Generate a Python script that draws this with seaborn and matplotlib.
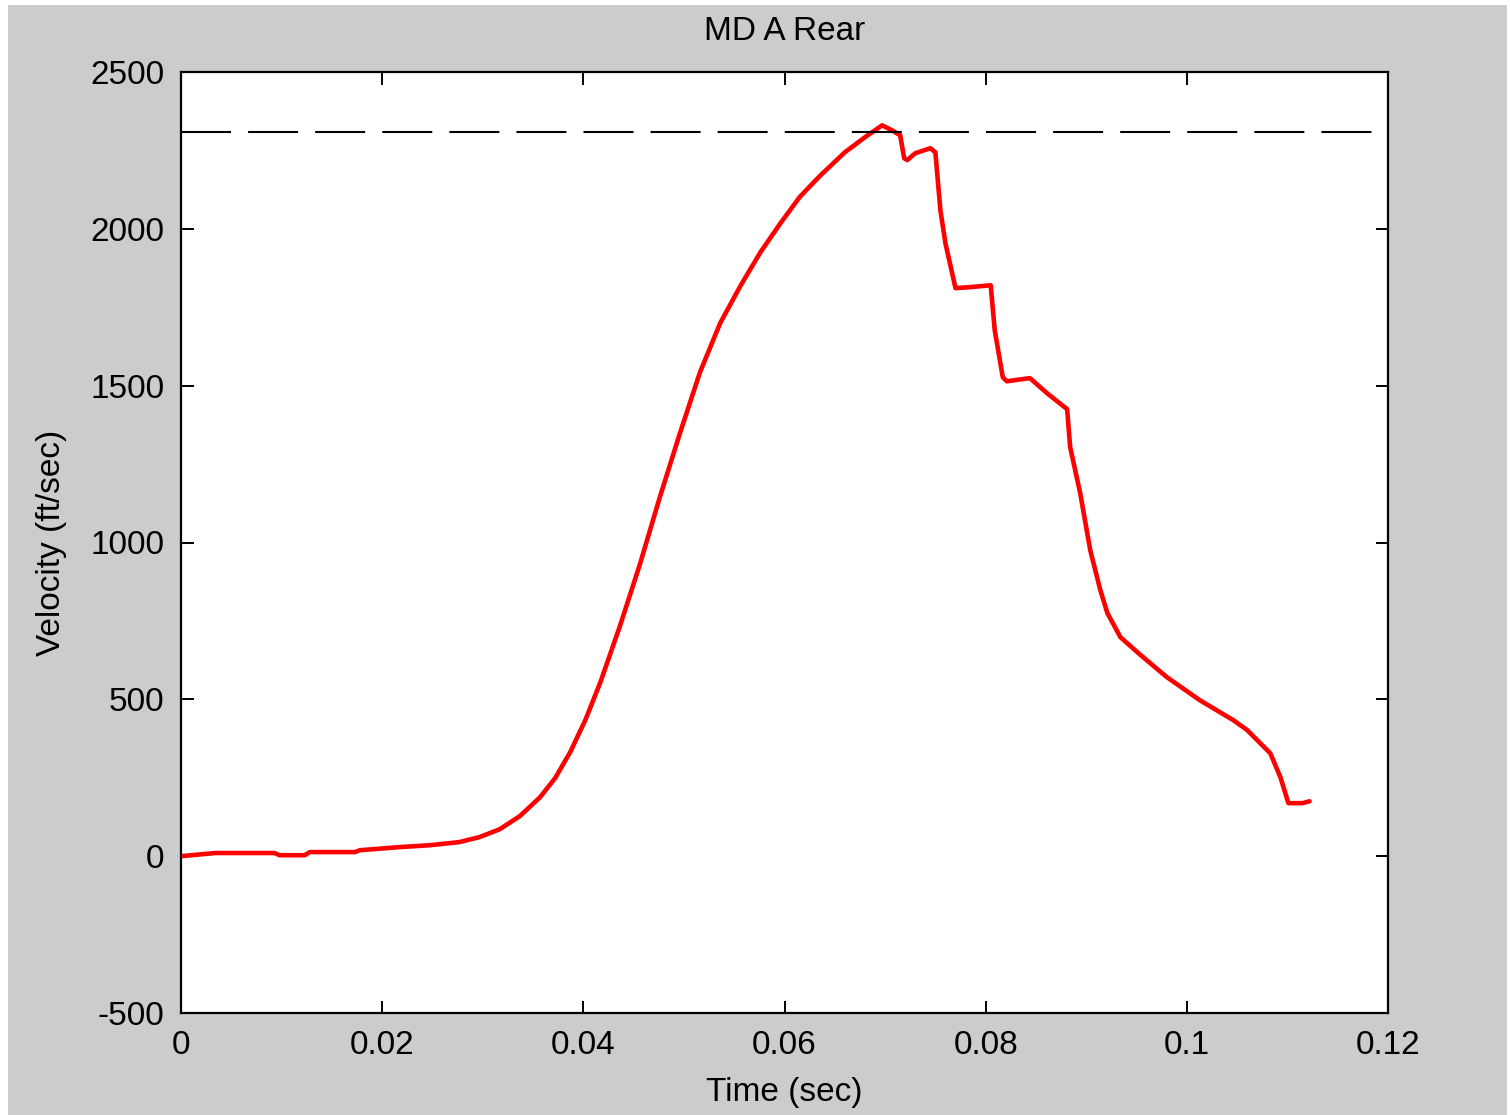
import matplotlib
matplotlib.use("Agg")
import matplotlib.pyplot as plt
import matplotlib.patches as mpatches
import seaborn as sns
import numpy as np
import pandas as pd

# ---- data ----
time_sec = [0.0, 0.0034, 0.0093, 0.0098, 0.0123, 0.0128, 0.0173, 0.0178, 0.0218, 0.0248,
            0.0277, 0.0297, 0.0317, 0.0337, 0.0357, 0.0372, 0.0387, 0.0402, 0.0417, 0.0436,
            0.0456, 0.0476, 0.0496, 0.0516, 0.0536, 0.0556, 0.0576, 0.0596, 0.0615, 0.0635,
            0.0660, 0.0680, 0.0697, 0.0707, 0.0715, 0.0719, 0.0722, 0.0730, 0.0745, 0.0750,
            0.0755, 0.0760, 0.0770, 0.0784, 0.0805, 0.0809, 0.0817, 0.0821, 0.0844, 0.0861,
            0.0881, 0.0884, 0.0894, 0.0904, 0.0914, 0.0921, 0.0934, 0.0953, 0.0980, 0.1013,
            0.1046, 0.1060, 0.1083, 0.1093, 0.1101, 0.1115, 0.1122]
velocity = [0, 10, 10, 3, 3, 13, 13, 19, 29, 35,
            45, 61, 86, 128, 188, 249, 332, 434, 555, 730,
            928, 1144, 1348, 1543, 1699, 1817, 1925, 2018, 2101, 2168,
            2244, 2292, 2330, 2314, 2298, 2225, 2219, 2241, 2257, 2244,
            2059, 1954, 1811, 1814, 1820, 1677, 1527, 1514, 1524, 1476,
            1425, 1304, 1157, 975, 848, 775, 698, 644, 571, 497,
            434, 402, 328, 252, 169, 169, 175]
reference_velocity = 2308
x_ticks = [0, 0.02, 0.04, 0.06, 0.08, 0.1, 0.12]
x_tick_labels = ["0", "0.02", "0.04", "0.06", "0.08", "0.1", "0.12"]
y_ticks = [-500, 0, 500, 1000, 1500, 2000, 2500]
title = "MD A Rear"
xlabel = "Time (sec)"
ylabel = "Velocity (ft/sec)"

df = pd.DataFrame({"t": time_sec, "v": velocity})

sns.set_style("ticks")
plt.rcParams["font.family"] = ["Liberation Sans", "DejaVu Sans"]
plt.rcParams["font.size"] = 24
plt.rcParams["axes.unicode_minus"] = False

fig = plt.figure(figsize=(15.1, 11.15), dpi=100, facecolor="white")
# gray window background (screenshot look)
fig.patches.append(mpatches.Rectangle((8 / 1510, 0), (1507 - 8) / 1510, 1 - 5 / 1115,
                                      transform=fig.transFigure, facecolor="#cccccc",
                                      edgecolor="none", zorder=-10))
ax = fig.add_axes([181 / 1510, 1 - 1013 / 1115, (1388 - 181) / 1510, (1013 - 72) / 1115])
ax.set_facecolor("white")

sns.lineplot(data=df, x="t", y="v", color="#ff0000", linewidth=3.3, ax=ax, estimator=None, sort=False)
ln = ax.axhline(reference_velocity, color="black", linewidth=1.5)
ln.set_dashes([24, 8.2])

ax.set_xlim(0, 0.12)
ax.set_ylim(-500, 2500)
ax.set_xticks(x_ticks)
ax.set_xticklabels(x_tick_labels)
ax.set_yticks(y_ticks)
ax.tick_params(direction="in", length=9, width=1.4, top=True, right=True,
               labelsize=24, colors="black", pad=12)
for s in ax.spines.values():
    s.set_visible(True)
    s.set_color("black")
    s.set_linewidth(1.6)

ax.set_title(title, fontsize=24, pad=23, color="black")
ax.set_xlabel(xlabel, fontsize=24, labelpad=12, color="black")
ax.set_ylabel(ylabel, fontsize=24, labelpad=17, color="black")

fig.savefig("out.png", dpi=100, facecolor=fig.get_facecolor())
